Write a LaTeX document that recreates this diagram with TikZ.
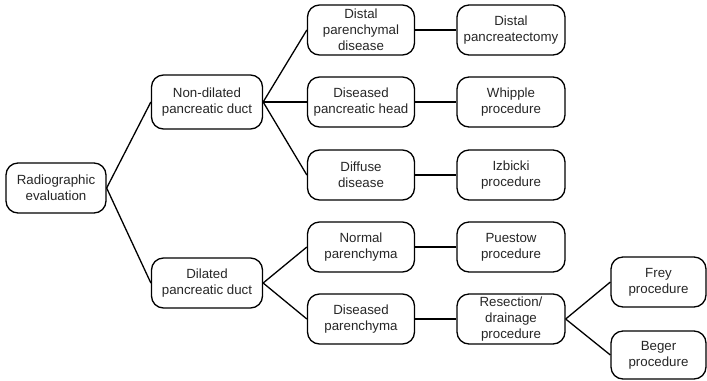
\documentclass[tikz,border=0pt]{standalone}
\usepackage{fontspec}
\setmainfont{Liberation Sans}
\begin{document}
\begin{tikzpicture}[x=1bp,y=-1bp,
  box/.style={draw=black, line width=1.3bp, rounded corners=12bp, align=center,
    inner sep=0pt, text=black!85,
    font=\fontsize{13.3bp}{16bp}\selectfont},
  link/.style={draw=black, line width=1.3bp}]
\useasboundingbox (0,0) rectangle (707,380);
% root
\node[box, minimum width=100bp, minimum height=50bp] (root) at (56,188) {Radiographic\\evaluation};
% duct type
\node[box, minimum width=111bp, minimum height=54bp] (nondil) at (207,102) {Non-dilated\\pancreatic duct};
\node[box, minimum width=111bp, minimum height=50bp] (dil) at (207,283) {Dilated\\pancreatic duct};
% findings
\node[box, minimum width=107bp, minimum height=50bp] (distal) at (361,30) {Distal\\parenchymal\\disease};
\node[box, minimum width=107bp, minimum height=50bp] (head) at (361,102) {Diseased\\pancreatic head};
\node[box, minimum width=107bp, minimum height=50bp] (diffuse) at (361,175) {Diffuse\\disease};
\node[box, minimum width=107bp, minimum height=50bp] (normal) at (361,247) {Normal\\parenchyma};
\node[box, minimum width=107bp, minimum height=50bp] (dispar) at (361,319) {Diseased\\parenchyma};
% procedures
\node[box, minimum width=108bp, minimum height=50bp] (pancr) at (511,30) {Distal\\pancreatectomy};
\node[box, minimum width=108bp, minimum height=50bp] (whipple) at (511,102) {Whipple\\procedure};
\node[box, minimum width=108bp, minimum height=50bp] (izbicki) at (511,175) {Izbicki\\procedure};
\node[box, minimum width=108bp, minimum height=50bp] (puestow) at (511,247) {Puestow\\procedure};
\node[box, minimum width=108bp, minimum height=50bp] (resect) at (511,319) {Resection/\\drainage\\procedure};
\node[box, minimum width=95bp, minimum height=50bp] (frey) at (658.5,282) {Frey\\procedure};
\node[box, minimum width=95bp, minimum height=48bp] (beger) at (658.5,355) {Beger\\procedure};
% connectors
\draw[link] (root.east) -- (nondil.west);
\draw[link] (root.east) -- (dil.west);
\draw[link] (nondil.east) -- (distal.west);
\draw[link] (nondil.east) -- (head.west);
\draw[link] (nondil.east) -- (diffuse.west);
\draw[link] (dil.east) -- (normal.west);
\draw[link] (dil.east) -- (dispar.west);
\draw[link] (distal) -- (pancr);
\draw[link] (head) -- (whipple);
\draw[link] (diffuse) -- (izbicki);
\draw[link] (normal) -- (puestow);
\draw[link] (dispar) -- (resect);
\draw[link] (resect.east) -- (frey.west);
\draw[link] (resect.east) -- (beger.west);
\end{tikzpicture}
\end{document}
